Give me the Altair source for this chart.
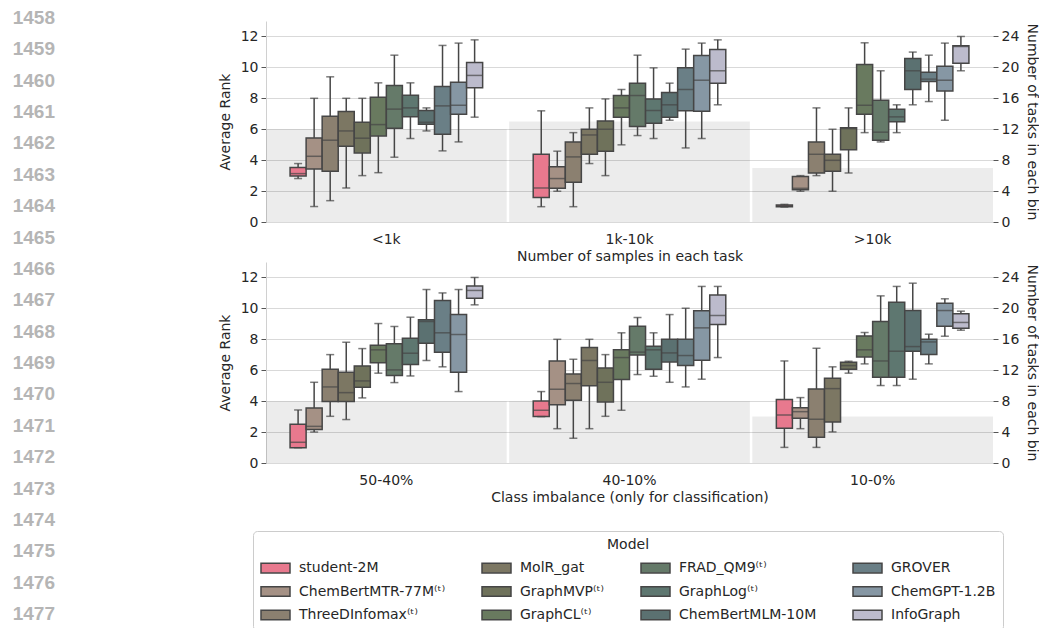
import altair as alt
import pandas as pd

line_numbers = list(range(1458, 1478))

models = ["student-2M", "ChemBertMTR-77M⁽ᵗ⁾", "ThreeDInfomax⁽ᵗ⁾", "MolR_gat",
          "GraphMVP⁽ᵗ⁾", "GraphCL⁽ᵗ⁾", "FRAD_QM9⁽ᵗ⁾", "GraphLog⁽ᵗ⁾",
          "ChemBertMLM-10M", "GROVER", "ChemGPT-1.2B", "InfoGraph"]
colors = ["#e8798e", "#a59185", "#8b8070", "#7c7763", "#6f725b", "#697a5f",
          "#657a69", "#5e7770", "#5b7171", "#6a7f86", "#8697a4", "#bcbbcc"]

size_bins = ["<1k", "1k-10k", ">10k"]
size_tasks = [12, 13, 7]
imb_bins = ["50-40%", "40-10%", "10-0%"]
imb_tasks = [8, 8, 6]

# per model: [whisker low, q1, median, q3, whisker high]
size_lt1k = [[2.81, 2.98, 3.13, 3.52, 3.78], [1.0, 3.43, 4.25, 5.44, 8.0],
             [1.38, 3.28, 5.29, 6.84, 9.39], [2.2, 4.9, 5.89, 7.14, 8.0],
             [3.0, 4.47, 5.42, 6.45, 8.0], [3.19, 5.57, 6.3, 8.07, 9.0],
             [4.19, 6.07, 7.3, 8.83, 10.79], [5.4, 6.8, 7.38, 8.2, 9.0],
             [5.89, 6.32, 6.45, 7.21, 7.38], [4.6, 5.68, 7.51, 8.76, 11.42],
             [5.18, 6.97, 7.55, 9.04, 11.57], [6.78, 8.68, 9.48, 10.32, 11.78]]
size_1k_10k = [[0.99, 1.58, 2.2, 4.38, 7.19], [1.99, 2.18, 2.81, 3.58, 4.58],
               [0.99, 2.57, 4.21, 5.18, 5.78], [3.78, 4.38, 5.63, 6.0, 7.38],
               [3.0, 4.58, 6.0, 6.54, 7.96], [4.99, 6.78, 7.38, 8.18, 8.57],
               [5.59, 6.17, 8.18, 8.98, 10.79], [5.4, 6.39, 7.21, 7.96, 9.97],
               [6.58, 6.78, 7.58, 8.37, 8.98], [4.79, 7.19, 8.57, 9.97, 11.18],
               [5.4, 7.17, 9.17, 10.77, 11.57], [7.58, 8.98, 9.78, 11.16, 11.78]]
size_gt10k = [[0.97, 0.99, 1.05, 1.1, 1.14], [1.99, 2.09, 2.18, 2.94, 3.0],
              [3.0, 3.17, 4.38, 5.18, 7.38], [1.99, 3.28, 3.99, 4.38, 6.0],
              [3.17, 4.68, 6.04, 6.09, 7.38], [5.78, 6.97, 7.55, 10.19, 11.59],
              [5.18, 5.29, 5.81, 7.88, 9.78], [5.78, 6.48, 6.8, 7.3, 7.58],
              [7.58, 8.57, 9.78, 10.58, 10.99], [7.79, 9.09, 9.24, 9.69, 10.79],
              [6.58, 8.48, 9.17, 10.08, 11.57], [9.78, 10.27, 11.35, 11.4, 12.0]]
imb_50_40 = [[0.99, 0.99, 1.34, 2.5, 3.43], [2.0, 2.16, 2.37, 3.56, 5.22],
             [3.02, 3.97, 4.92, 6.07, 7.01], [2.81, 3.97, 4.55, 5.87, 7.81],
             [4.21, 4.9, 5.31, 6.28, 7.4], [5.81, 6.48, 7.32, 7.62, 9.02],
             [5.2, 5.66, 6.02, 7.71, 8.83], [5.63, 6.37, 7.1, 8.07, 9.43],
             [6.63, 7.75, 9.15, 9.26, 11.22], [6.22, 7.17, 8.42, 10.51, 11.0],
             [4.62, 5.87, 8.31, 9.6, 11.22], [10.23, 10.66, 11.16, 11.44, 12.0]]
imb_40_10 = [[3.0, 3.0, 3.41, 4.01, 4.62], [2.22, 3.76, 4.77, 6.6, 8.0],
             [1.6, 4.06, 5.14, 5.76, 6.71], [2.22, 4.99, 6.63, 7.47, 8.0],
             [3.02, 3.95, 5.22, 6.15, 7.01], [3.41, 5.4, 6.82, 7.32, 8.42],
             [5.72, 6.99, 7.17, 8.85, 9.41], [5.61, 6.07, 7.32, 7.55, 8.42],
             [5.22, 6.54, 7.12, 8.0, 9.6], [4.92, 6.3, 6.95, 8.0, 10.01],
             [5.42, 6.65, 8.74, 9.84, 11.42], [6.82, 8.96, 9.54, 10.86, 11.42]]
imb_10_0 = [[1.01, 2.24, 3.11, 4.1, 6.6], [2.22, 2.89, 3.32, 3.58, 4.23],
            [1.01, 1.66, 2.83, 4.79, 7.42], [2.01, 2.65, 4.81, 5.48, 6.22],
            [5.81, 6.07, 6.3, 6.52, 6.58], [6.41, 6.86, 7.32, 8.22, 8.44],
            [5.01, 5.55, 6.6, 9.15, 10.81], [5.01, 5.55, 7.23, 10.4, 11.42],
            [5.42, 7.23, 7.53, 9.86, 11.63], [6.41, 7.01, 7.83, 8.0, 8.33],
            [8.2, 8.85, 9.86, 10.34, 10.62], [8.59, 8.72, 9.09, 9.65, 9.82]]

# empty slots either side of each group of boxes (box group = 80% of the band)
offset_domain = ["_pad_left"] + models + ["_pad_right"]

STROKE = "#464646"
TXT = "#262626"


def panel(bins, tasks, stats, xtitle):
    rows = []
    for b, st in zip(bins, stats):
        for m, (lo, q1, md, q3, hi) in zip(models, st):
            rows.append(dict(bin=b, model=m, lo=lo, q1=q1, med=md, q3=q3, hi=hi))
    df = pd.DataFrame(rows)
    tdf = pd.DataFrame({"bin": bins, "tasks": tasks})

    xenc = alt.X("bin:N", sort=bins, scale=alt.Scale(paddingInner=0.01, paddingOuter=0),
                 axis=alt.Axis(title=xtitle, labelAngle=0, ticks=False, domain=False,
                               labelPadding=10, titlePadding=3))
    xo = alt.XOffset("model:N",
                     scale=alt.Scale(domain=offset_domain, paddingInner=0, paddingOuter=0.5))
    rank_axis = alt.Axis(title="Average Rank", orient="left", values=list(range(0, 13, 2)),
                         grid=True, gridColor="#d9d9d9", gridWidth=1, domain=True,
                         domainColor="#d0d0d0", ticks=True, tickColor="#555555",
                         tickSize=5, labelPadding=3, titlePadding=8)
    yscale = alt.Scale(domain=[0, 13], nice=False, zero=True)

    bars = alt.Chart(tdf).mark_bar(color="#000000", opacity=0.075).encode(
        x=xenc,
        y=alt.Y("tasks:Q", scale=alt.Scale(domain=[0, 26], nice=False),
                axis=alt.Axis(title="Number of tasks in each bin", orient="right",
                              values=list(range(0, 25, 4)), grid=False, domain=False,
                              ticks=True, tickColor="#555555", tickSize=5,
                              labelPadding=3, titlePadding=6)),
    )
    base = alt.Chart(df).encode(x=xenc, xOffset=xo)
    whisk = base.mark_rule(color=STROKE, strokeWidth=1.5).encode(
        y=alt.Y("lo:Q", scale=yscale, axis=rank_axis), y2="hi:Q")
    box = base.mark_bar(stroke=STROKE, strokeWidth=1.5, opacity=1).encode(
        y=alt.Y("q1:Q", scale=yscale, axis=rank_axis), y2="q3:Q",
        color=alt.Color("model:N",
                        scale=alt.Scale(domain=models, range=colors),
                        legend=alt.Legend(
                            title="Model", orient="none", legendX=253, legendY=510,
                            columns=4, direction="vertical",
                            symbolType="M-1,-0.6H2.625V0.6H-1Z", symbolSize=256,
                            symbolStrokeColor=STROKE, symbolStrokeWidth=1.5,
                            symbolOpacity=1,
                            labelFontSize=14, labelColor=TXT, labelLimit=400,
                            labelOffset=21, titleFontSize=14, titleFontWeight="normal",
                            titleColor=TXT, titleAnchor="middle", titlePadding=7,
                            padding=7, strokeColor="#cccccc", cornerRadius=4,
                            rowPadding=6.5, columnPadding=33)))
    med = base.mark_tick(color=STROKE, size=16, thickness=1.5).encode(
        y=alt.Y("med:Q", scale=yscale, axis=rank_axis))
    cap_lo = base.mark_tick(color=STROKE, size=8, thickness=1.5).encode(
        y=alt.Y("lo:Q", scale=yscale, axis=rank_axis))
    cap_hi = base.mark_tick(color=STROKE, size=8, thickness=1.5).encode(
        y=alt.Y("hi:Q", scale=yscale, axis=rank_axis))
    inner = alt.layer(whisk, box, med, cap_lo, cap_hi)
    return alt.layer(bars, inner).resolve_scale(y="independent").properties(
        width=727, height=201)


top = panel(size_bins, size_tasks, [size_lt1k, size_1k_10k, size_gt10k],
            "Number of samples in each task")
bottom = panel(imb_bins, imb_tasks, [imb_50_40, imb_40_10, imb_10_0],
               "Class imbalance (only for classification)")
main = alt.vconcat(top, bottom, spacing=40, bounds="flush")

nums = alt.Chart(pd.DataFrame({"n": line_numbers})).mark_text(
    align="right", baseline="middle", fontSize=19, fontWeight="bold",
    font="Liberation Sans", color="#b5b5b5").encode(
    x=alt.value(55),
    y=alt.Y("n:Q", scale=alt.Scale(domain=[1458.0956, 1477.2222], reverse=True,
                                   nice=False, zero=False), axis=None),
    text="n:N",
).properties(width=60, height=600)

chart = alt.hconcat(nums, main, spacing=206, bounds="flush").properties(
    padding={"left": 0, "top": 9, "right": 0, "bottom": 0}
).configure(font="DejaVu Sans").configure_view(
    strokeWidth=0, stroke="transparent"
).configure_axis(
    labelFont="DejaVu Sans", titleFont="DejaVu Sans", labelFontSize=14,
    titleFontSize=14, titleFontWeight="normal", labelColor=TXT, titleColor=TXT
).configure_legend(labelFont="DejaVu Sans", titleFont="DejaVu Sans")

chart.save("out.html", embed_options={"renderer": "svg", "actions": False})
